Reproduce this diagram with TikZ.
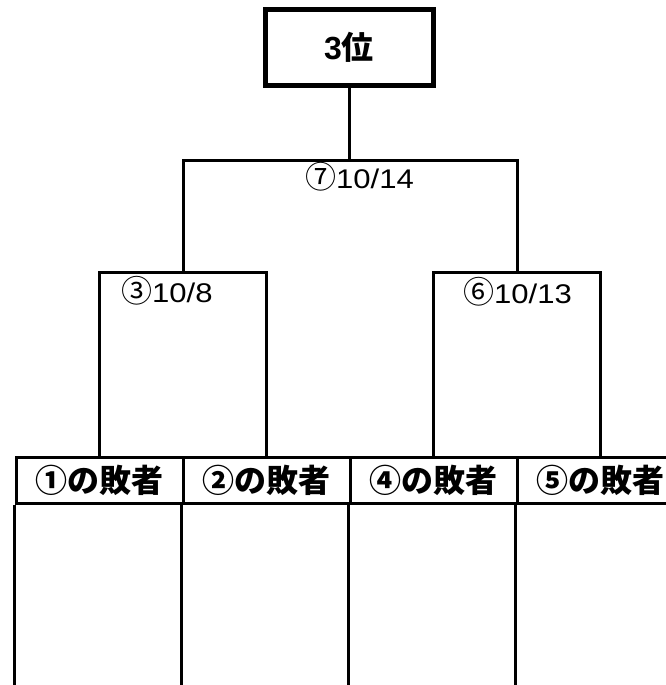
\documentclass[tikz,border=0pt]{standalone}
\usepackage{fontspec}
\setmainfont{Liberation Sans}
\newfontfamily\jp{Noto Sans CJK JP}
\newfontfamily\datefont{Liberation Sans}[FakeStretch=1.15]
\begin{document}
\begin{tikzpicture}[x=1pt,y=-1pt,
    line/.style={line width=3pt},
    cell/.style={draw,line width=3pt,minimum width=167pt,minimum height=46pt,inner sep=0pt,
      font=\jp\bfseries\fontsize{32}{32}\selectfont},
    date/.style={anchor=base west,inner sep=0pt,font=\datefont\fontsize{27}{27}\selectfont}]
  \useasboundingbox (0,0) rectangle (666,685);
  \clip (0,0) rectangle (666,685);
  % top box
  \node[draw,line width=5pt,minimum width=168pt,minimum height=75pt,inner sep=0pt,
    font=\bfseries\fontsize{32}{32}\selectfont] (third) at (349,47.5) {3{\jp 位}\hspace{6pt}};
  % header cells
  \node[cell] (l1) at (99.5,480) {①の敗者};
  \node[cell] (l2) at (266.5,480) {②の敗者};
  \node[cell] (l3) at (433.5,480) {④の敗者};
  \node[cell] (l4) at (600.5,480) {⑤の敗者};
  \foreach \c in {l1,l2,l3,l4}
    \draw[line] (\c.south west) -- ++(0,200);
  % brackets
  \coordinate (j3) at (183,272);
  \coordinate (j6) at (517,272);
  \coordinate (j7) at (349,160);
  \draw[line] (l1.north) |- (j3) -| (l2.north);
  \draw[line] (l3.north) |- (j6) -| (l4.north);
  \draw[line] (j3) |- (j7) -| (j6);
  \draw[line] (j7) -- (third.south);
  % dates
  \node[date] (d7) at (305,188) {{\jp\fontsize{31}{31}\selectfont ⑦}10/14};
  \node[date] (d3) at (121,302) {{\jp\fontsize{31}{31}\selectfont ③}10/8};
  \node[date] (d6) at (463,303) {{\jp\fontsize{31}{31}\selectfont ⑥}10/13};
\end{tikzpicture}
\end{document}
